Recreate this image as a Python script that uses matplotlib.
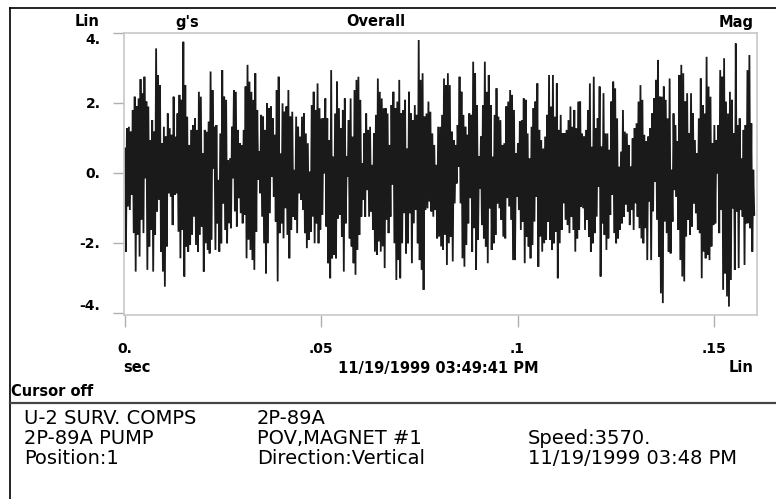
import matplotlib.pyplot as plt
from matplotlib.lines import Line2D
import numpy as np

W, H = 776, 499

# positive swings of the waveform, left to right (g)
upper = [0.70, 1.28, 1.32, 1.18, 1.80, 2.18, 1.90, 2.13, 2.68, 2.28, 2.75, 2.04, 1.90, 0.94, 1.51, 1.18, 3.56, 2.80,
         2.51, 0.85, 1.32, 1.04, 1.70, 1.28, 1.09, 2.18, 1.04, 1.70, 2.23, 2.09, 3.75, 2.51, 1.61, 0.80, 1.23, 1.37,
         1.56, 1.23, 2.32, 2.18, 0.56, 1.23, 1.18, 1.47, 2.90, 2.37, 1.32, 1.37, -0.20, 1.13, 2.94, 2.18, 2.09, 0.37,
         0.42, 1.32, 2.37, 2.32, 1.23, 0.85, 0.80, 1.23, 2.47, 3.09, 2.61, 2.32, 2.09, 2.85, 1.80, 0.61, 1.66, 1.61,
         1.23, 1.99, 1.85, 1.90, 1.56, 1.09, 2.37, 2.75, 0.56, 1.99, 1.75, 1.90, 2.37, 1.61, 1.75, 0.09, 1.61, 1.32,
         1.04, 1.61, 1.70, 1.13, 0.85, 0.04, 1.94, 2.32, 1.80, 2.56, 1.85, 1.56, 1.56, 2.13, 1.56, 0.94, 2.94, 0.47,
         1.70, 2.61, 1.85, 1.28, 1.80, 2.13, 0.47, 1.51, 2.13, 1.04, 2.37, 2.66, 2.75, 2.09, 0.28, 1.13, 1.70, 1.23,
         1.32, 0.23, 1.13, 1.66, 2.70, 2.32, 2.13, 1.85, 1.85, 1.70, 0.80, 1.94, 2.32, 1.85, 2.04, 2.66, 1.70, 1.80,
         2.09, 0.70, 2.32, 1.70, 1.51, 1.94, 1.66, 3.80, 2.66, 2.85, 1.61, 1.70, 2.04, 1.75, 1.13, 0.80, 0.23, 1.32,
         1.32, 1.66, 2.70, 2.51, 2.85, 2.51, 1.18, 0.94, 0.80, 1.37, 2.75, 2.32, 1.66, 1.32, 1.09, 1.70, 1.66, 3.18,
         2.85, 1.94, 0.47, 1.04, 1.94, 3.18, 2.32, 2.80, 1.94, 0.47, 1.66, 2.42, 1.61, 1.51, 0.80, 0.85, 1.90, 2.04,
         2.37, 2.23, 1.80, 0.56, 0.85, 1.47, 1.51, 2.13, 2.09, 1.13, 0.42, 1.32, 1.85, 2.04, 2.56, 1.23, 0.94, 0.70,
         1.04, 1.66, 2.80, 1.90, 2.80, 1.61, 2.56, 1.23, 1.66, 1.13, 1.13, 1.23, 1.51, 1.90, 1.32, 1.80, 1.28, 2.04,
         2.04, 1.13, 1.04, 1.23, 1.80, 2.56, 0.75, 2.75, 1.28, 1.56, 2.47, 0.75, 2.28, 1.13, 1.13, 0.66, 2.04, 2.61,
         2.42, 1.56, 0.18, 0.61, 1.80, 1.18, 1.13, 0.80, 0.18, 0.99, 1.28, 1.42, 2.04, 2.51, 2.09, 1.09, 0.90, 1.04,
         1.28, 1.70, 2.13, 2.66, 3.23, 2.18, 2.18, 2.47, 2.09, 1.56, 2.70, 0.09, 1.70, 1.37, 0.90, 2.80, 3.09, 2.85,
         2.04, 2.28, 1.13, 2.28, 1.70, 0.94, 0.56, 1.56, 2.70, 1.94, 1.70, 3.32, 2.47, 2.18, 0.85, 1.37, 0.94, 1.37,
         2.94, 2.75, 3.28, 2.04, 1.70, 2.32, 2.09, 1.13, 3.70, 1.37, 1.56, 0.42, 1.23, 1.37, 2.94, 3.37, 1.42, 0.09]

# negative swings of the waveform, left to right (g)
lower = [-2.25, -0.96, -1.06, -0.63, -1.72, -2.82, -1.77, -2.39, -1.34, -1.72, -0.15, -2.77, -2.10, -1.63, -2.82,
         -1.77, -1.10, -0.77, -2.25, -2.82, -3.25, -2.10, -0.58, -0.68, -1.49, -0.63, -0.58, -1.68, -2.44, -1.63,
         -2.96, -2.10, -2.25, -2.06, -1.77, -1.25, -2.06, -2.25, -1.77, -1.53, -2.82, -2.01, -2.20, -2.30, -1.91,
         0.13, -2.20, -1.44, -2.25, -2.01, -0.87, -1.63, -2.01, -1.44,
         -1.58, -0.15, -1.10, -1.53, -0.72, -1.15, -1.44, -1.20, -2.44, -1.91, -2.20, -2.49, -2.77, -1.68, -0.20,
         -0.58, -1.25, -2.01, -2.87, -2.01, -1.15, -0.10, -0.68, -1.39, -3.10, -1.72, -1.44, -1.87, -1.01, -1.77,
         -2.44, -1.63, -1.25, -1.34, -1.72, -0.58, -0.77, -1.06, -1.72, -2.15, -1.91, -1.68, -1.25, -2.01, -1.44,
         -2.01, -1.63, -1.20, -0.01, -1.53, -2.58, -3.01, -2.44, -2.34,
         -2.44, -1.30, -1.20, -1.82, -2.82, -1.44, -0.10, -1.87, -2.10, -2.58, -2.91, -2.20, -1.77, -1.25, -0.77,
         -1.25, -0.49, -1.25, -1.10, -1.63, -2.25, -2.34, -1.96, -2.25, -2.10, -2.72, -1.34, -1.72, -1.25, -0.34,
         -2.01, -3.06, -2.49, -3.01, -2.01, -1.15, -2.30, -2.01, -1.15, -2.58, -1.44, -1.06, -2.01, -2.49, -2.77,
         -3.34, -1.06, -1.01, -0.82, -1.10, -1.25, -1.06, -1.87, -1.82,
         -2.10, -2.20, -1.77, -2.63, -2.01, -1.82, -2.53, -0.87, -0.30, 0.18, -0.87, -2.44, -2.68, -2.06, -1.44,
         -0.72, -2.25, -1.58, -2.77, -1.91, -0.44, -1.49, -1.87, -2.10, -2.58, -1.01, -2.20, -2.01, -1.77, -0.87,
         -1.01, -1.34, -1.82, -1.87, -0.72, -0.96, -1.34, -2.49, -2.49, -0.68, -1.06, -1.63, -1.39, -2.58, -1.82,
         -2.10, -2.44, -2.06, -1.39, -0.68, -2.68, -1.82, -2.25, -2.01,
         -1.91, -1.39, -1.91, -2.20, -2.01, -1.68, -3.01, -2.01, -1.63, -0.87, -1.34, -1.49, -1.72, -1.25, -1.63,
         -2.25, -1.87, -1.63, -0.96, -1.01, -1.63, -1.34, -1.82, -2.25, -2.01, -1.72, -1.25, -0.39, -2.96, -1.44,
         -1.77, -2.20, -1.87, -1.20, -0.63, -1.72, -2.01, -1.87, -1.63, -1.44, -1.25, -0.91, -1.10, -1.49, -1.06,
         -1.63, -0.87, -1.25, -1.58, -1.87, -2.01, -1.58, -2.49, -0.82,
         -2.49, -1.10, -0.25, -1.34, -2.39, -3.44, -3.72, -1.39, -1.72, -2.25, -2.30, -1.39, -0.49, -0.68, -1.63,
         -2.49, -2.96, -3.10, -1.82, -1.34, -1.77, -1.53, -0.87, -1.15, -1.63, -1.72, -3.01, -2.25, -2.44, -2.34,
         -2.49, -2.10, -1.49, -1.44, -0.01, -1.72, -1.06, -3.34, -2.87, -3.53, -3.82, -3.06, -1.01, -2.77, -1.10,
         -2.72, -1.06, -1.25, -2.63, -1.44, -1.44, -1.58, -2.25, -1.20]

t_end = 0.1603
yticks = [4, 2, 0, -2, -4]
ytick_labels = ['4.', '2.', '0.', '-2.', '-4.']
xticks = [0, 0.05, 0.1, 0.15]
xtick_labels = ['0.', '.05', '.1', '.15']

header = [('Lin', 87, 'center'), ("g's", 187, 'center'), ('Overall', 376, 'center'), ('Mag', 754, 'right')]
footer = [('sec', 123, 'left'), ('11/19/1999 03:49:41 PM', 438, 'center'), ('Lin', 754, 'right')]
info = [['U-2 SURV. COMPS', '2P-89A', ''],
        ['2P-89A PUMP', 'POV,MAGNET #1', 'Speed:3570.'],
        ['Position:1', 'Direction:Vertical', '11/19/1999 03:48 PM']]

wave = np.empty(len(upper) + len(lower))
wave[0::2] = upper
wave[1::2] = lower
t = np.linspace(0, t_end, len(wave))


def fx(x):
    return x / W


def fy(y):
    return 1 - y / H


plt.rcParams['font.family'] = 'DejaVu Sans'
fig = plt.figure(figsize=(W / 100, H / 100), dpi=100)
ax = fig.add_axes([fx(124), fy(315), fx(633), 282 / H])

ax.plot(t, wave, color='#1a1a1a', lw=1.3, solid_joinstyle='miter')
ax.set_xlim(-0.00025, 0.161)
ax.set_ylim(-4.06, 4.0)

for s in ax.spines.values():
    s.set_color('#c8c8c8')
    s.set_linewidth(1.2)

ax.set_yticks(yticks)
ax.set_yticklabels(ytick_labels, fontsize=10, fontweight='bold')
ax.set_xticks(xticks)
ax.set_xticklabels(xtick_labels, fontsize=10, fontweight='bold')
ax.tick_params(axis='y', length=8, width=1, color='#b0b0b0', pad=9)
ax.tick_params(axis='x', length=8.5, width=1, color='#b0b0b0', pad=11)
ylabs = ax.get_yticklabels()
ylabs[0].set_verticalalignment('top')
ylabs[-1].set_verticalalignment('bottom')

for txt, x, ha in header:
    fig.text(fx(x), fy(22), txt, ha=ha, va='center', fontsize=10.5, fontweight='bold')
for txt, x, ha in footer:
    fig.text(fx(x), fy(368), txt, ha=ha, va='center', fontsize=10.5, fontweight='bold')

fig.text(fx(11), fy(392), 'Cursor off', ha='left', va='center', fontsize=10.5, fontweight='bold')

col_x = [24, 257, 528]
row_y = [418, 439, 459]
for r, row in enumerate(info):
    for c, txt in enumerate(row):
        fig.text(fx(col_x[c]), fy(row_y[r]), txt, ha='left', va='center', fontsize=14)

# window frame and separator
fig.add_artist(Line2D([fx(10), 1], [fy(8), fy(8)], color='black', lw=1.2))
fig.add_artist(Line2D([fx(10), fx(10)], [fy(8), 0], color='black', lw=1.2))
fig.add_artist(Line2D([fx(10), 1], [fy(403), fy(403)], color='#444444', lw=1.6))

fig.savefig('out.png', dpi=100, facecolor='white')
